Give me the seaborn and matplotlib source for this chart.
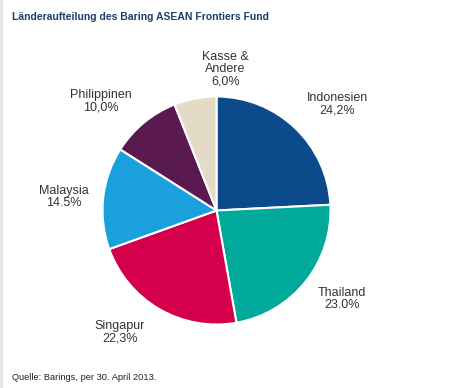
import matplotlib
matplotlib.use("Agg")
import matplotlib.pyplot as plt
import seaborn as sns
import numpy as np

# ---- data ----
categories = ["Indonesien", "Thailand", "Singapur", "Malaysia", "Philippinen", "Kasse &\nAndere"]
values = [24.2, 23.0, 22.3, 14.5, 10.0, 6.0]
value_labels = ["24,2%", "23.0%", "22,3%", "14.5%", "10,0%", "6,0%"]
title = "Länderaufteilung des Baring ASEAN Frontiers Fund"
source = "Quelle: Barings, per 30. April 2013."

# ---- style ----
colors = ["#0b4b8c", "#00a99a", "#d5004b", "#1aa0dc", "#5b1a4f", "#e3dbc5"]
# label positions relative to the pie centre, in pie radii
label_pos = [(1.06, 0.93), (1.10, -0.78), (-0.85, -1.07), (-1.34, 0.12), (-1.01, 0.96), (0.08, 1.24)]

sns.set_theme(style="white")
plt.rcParams['font.family'] = ['Liberation Sans', 'DejaVu Sans']

W, H = 450, 388
fig = plt.figure(figsize=(W / 100, H / 100), dpi=100)
fig.patch.set_facecolor("white")
ax = fig.add_axes([0, 0, 1, 1])
R = 114.0
cx, cy = 216.5, 210.5
ax.set_xlim(-cx / R, (W - cx) / R)
ax.set_ylim(-(H - cy) / R, cy / R)
ax.set_aspect("auto")
ax.axis("off")

labels = [f"{c}\n{v}" for c, v in zip(categories, value_labels)]
wedges, texts = ax.pie(values, colors=colors, startangle=90, counterclock=False,
                       labels=labels, labeldistance=1.3,
                       wedgeprops=dict(edgecolor="white", linewidth=1.5),
                       textprops=dict(fontsize=9, color="#333333", linespacing=1.0,
                                      ha="center", va="center"))
for t, p in zip(texts, label_pos):
    t.set_position(p)
    t.set_horizontalalignment("center")
    t.set_verticalalignment("center")
ax.set_xlim(-cx / R, (W - cx) / R)
ax.set_ylim(-(H - cy) / R, cy / R)

fig.text(12 / W, 1 - 17 / H, title, fontsize=7.5, fontweight="bold", color="#1f3d6b",
         ha="left", va="center")
fig.text(12 / W, 1 - 378 / H, source, fontsize=6.7, color="#222222", ha="left", va="center")

# light grey strip on the left edge
fig.add_artist(plt.Line2D([1 / W, 1 / W], [0, 1], color="#e6e6e6", linewidth=2,
                          transform=fig.transFigure))

fig.savefig("out.png", dpi=100, facecolor="white")
